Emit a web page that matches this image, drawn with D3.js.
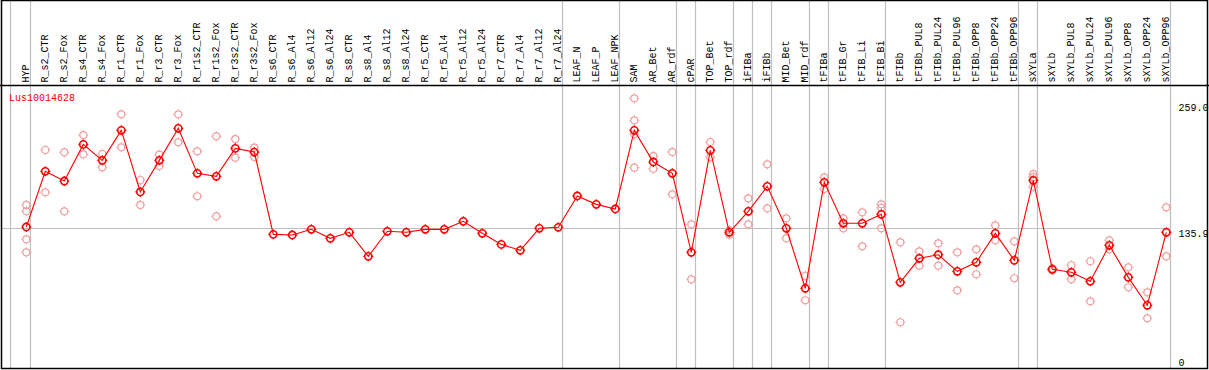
<!DOCTYPE html>
<html lang="en">
<head>
<meta charset="UTF-8">
<title>Lus10014628</title>
<script src="https://d3js.org/d3.v7.min.js"></script>
<style>
    body { margin: 0; background: #fff; }
    text { font-family: "Liberation Mono", "DejaVu Sans Mono", monospace; font-size: 10px; }
</style>
</head>
<body>
<svg width="1209" height="370"></svg>
<script>
    const gene = "Lus10014628";

    const samples = ["HYP","R_s2_CTR","R_s2_Fox","R_s4_CTR","R_s4_Fox","R_r1_CTR","R_r1_Fox","R_r3_CTR",
        "R_r3_Fox","R_r1s2_CTR","R_r1s2_Fox","R_r3s2_CTR","R_r3s2_Fox","R_s6_CTR","R_s6_Al4","R_s6_Al12",
        "R_s6_Al24","R_s8_CTR","R_s8_Al4","R_s8_Al12","R_s8_Al24","R_r5_CTR","R_r5_Al4","R_r5_Al12",
        "R_r5_Al24","R_r7_CTR","R_r7_Al4","R_r7_Al12","R_r7_Al24","LEAF_N","LEAF_P","LEAF_NPK",
        "SAM","AR_Bet","AR_rdf","cPAR","TOP_Bet","TOP_rdf","iFIBa","iFIBb","MID_Bet","MID_rdf",
        "tFIBa","tFIB_Gr","tFIB_Li","tFIB_Bi","tFIBb","tFIBb_PUL8","tFIBb_PUL24","tFIBb_PUL96",
        "tFIBb_OPP8","tFIBb_OPP24","tFIBb_OPP96","sXYLa","sXYLb","sXYLb_PUL8","sXYLb_PUL24",
        "sXYLb_PUL96","sXYLb_OPP8","sXYLb_OPP24","sXYLb_OPP96"];

    const means = [136.8,191.2,181.7,217.5,201.9,231.2,171.0,201.9,233.2,189.2,186.3,213.6,210.0,
        129.6,129.0,134.5,125.7,131.6,108.1,132.6,131.6,134.5,134.5,142.3,130.6,119.8,114.0,135.5,136.5,
        167.1,158.9,154.4,231.2,200.3,189.2,112.0,211.7,131.6,152.1,176.5,135.5,76.9,
        180.4,140.4,140.4,149.2,82.7,106.2,109.7,93.5,102.3,130.6,104.2,182.4,95.4,92.5,83.7,
        118.9,87.6,60.3,131.6];

    const replicates = [
        [158.3,152.1,124.7,112.0],[212.0,170.7],[209.7,152.1],[226.6,207.8],[208.1,195.1],
        [246.9,214.6],[182.7,158.3],[207.4,196.4],[246.9,219.5],[210.7,166.8],[225.4,147.2],
        [222.7,204.5],[214.3,205.2],
        [],[],[],[],[],[],[],[],[],[],[],[],[],[],[],[],
        [],[],[],
        [262.5,241.0,227.3,194.7],[206.1,193.7],[210.0,168.7],[139.4,85.7],[219.8,204.9],
        [133.5,129.3],[164.8,139.4],[198.0,155.0],[145.3,125.7],[88.9,65.2],
        [185.3,173.9],[145.3,135.5],[151.1,117.9],[158.9,155.6,135.5],
        [121.8,43.7],[113.0,99.0],[120.8,99.0],[112.0,74.9],[115.0,90.6],[138.4,123.8],[122.8,86.7],
        [188.5,185.5,176.0],[96.4,94.5],[99.4,85.7],[103.3,64.2],[123.8,115.0],[97.4,77.9],
        [73.0,47.6],[156.0,108.1]];

    // index of last sample in each group
    const groupEnds = [0,28,31,34,35,37,38,39,41,42,45,52,53,60];
    const yTicks = [259.0, 135.9, 0];

    const W = 1209, H = 370;
    const svg = d3.select("svg");

    const x = d3.scalePoint().domain(samples).range([26.3, 1166.3]);
    const y = d3.scaleLinear().domain([0, 259]).range([367, 101.9]);

    const headerY = 85.5;

    // group separators
    const sepX = [x(samples[0]) - 16].concat(groupEnds.map(i => x(samples[i]) + 4));
    svg.append("g")
        .selectAll("line")
        .data(sepX)
        .enter()
        .append("line")
        .attr("x1", d => Math.round(d) + 0.5)
        .attr("x2", d => Math.round(d) + 0.5)
        .attr("y1", 0)
        .attr("y2", 369)
        .attr("stroke", "#c0c0c0")
        .attr("stroke-width", 1.2);

    // reference line at the middle tick
    svg.append("line")
        .attr("x1", 1).attr("x2", Math.round(x(samples[60]) + 4) + 0.5)
        .attr("y1", Math.round(y(yTicks[1])) + 0.5)
        .attr("y2", Math.round(y(yTicks[1])) + 0.5)
        .attr("stroke", "#c0c0c0")
        .attr("stroke-width", 1.2);

    // frame and header rule
    svg.append("rect")
        .attr("x", 1.5).attr("y", 0.5)
        .attr("width", 1206).attr("height", 368)
        .attr("fill", "none").attr("stroke", "black").attr("stroke-width", 1.5);
    svg.append("line")
        .attr("x1", 0).attr("x2", W)
        .attr("y1", headerY).attr("y2", headerY)
        .attr("stroke", "black").attr("stroke-width", 1.5);

    // sample labels
    svg.append("g")
        .selectAll("text")
        .data(samples)
        .enter()
        .append("text")
        .attr("transform", d => "translate(" + (x(d) + 3) + "," + (headerY - 3) + ") rotate(-90)")
        .text(d => d);

    // y labels
    svg.append("g")
        .selectAll("text")
        .data(yTicks)
        .enter()
        .append("text")
        .attr("x", 1178.5)
        .attr("y", d => Math.min(y(d) + 8.7, 365.5))
        .text(d => d === 0 ? "0" : d.toFixed(1));

    svg.append("text")
        .attr("x", 9)
        .attr("y", 100.5)
        .attr("fill", "red")
        .text(gene);

    const marker = "M0,-5V-3.5M0,5V3.5M-5,0H-3.5M5,0H3.5";

    // replicates
    const repPts = [];
    replicates.forEach((r, i) => r.forEach(v => repPts.push({ s: samples[i], v: v })));
    const reps = svg.append("g")
        .selectAll("g")
        .data(repPts)
        .enter()
        .append("g")
        .attr("transform", d => "translate(" + x(d.s) + "," + y(d.v) + ")")
        .attr("stroke", "#f0a0a0")
        .attr("fill", "none");
    reps.append("circle").attr("r", 3.5).attr("stroke-width", 1.2);
    reps.append("path").attr("d", marker).attr("stroke-width", 1);

    // mean line
    const line = d3.line()
        .x((d, i) => x(samples[i]))
        .y(d => y(d));
    svg.append("path")
        .attr("d", line(means))
        .attr("fill", "none")
        .attr("stroke", "red")
        .attr("stroke-width", 1.1);

    const pts = svg.append("g")
        .selectAll("g")
        .data(means)
        .enter()
        .append("g")
        .attr("transform", (d, i) => "translate(" + x(samples[i]) + "," + y(d) + ")")
        .attr("stroke", "red")
        .attr("fill", "none");
    pts.append("circle").attr("r", 3.6).attr("stroke-width", 1.6);
    pts.append("path").attr("d", marker).attr("stroke-width", 1.2);
</script>
</body>
</html>
